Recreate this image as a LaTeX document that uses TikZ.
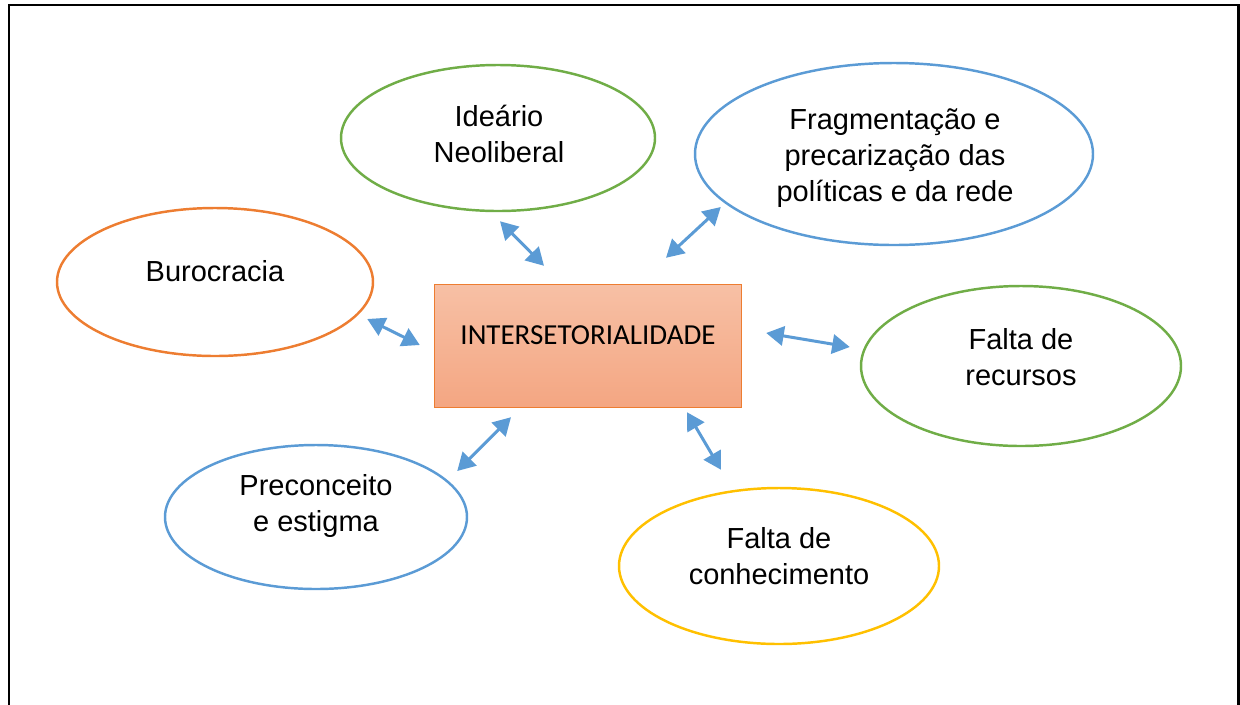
\documentclass[tikz,border=0pt]{standalone}
\usepackage{fontspec}
\setmainfont{Liberation Sans}
\newfontfamily\calibrifont{Carlito}
\usepackage{tikz}
\usetikzlibrary{arrows.meta,shapes.geometric,calc}

\definecolor{msblue}{HTML}{5B9BD5}
\definecolor{msgreen}{HTML}{70AD47}
\definecolor{msorange}{HTML}{ED7D31}
\definecolor{msyellow}{HTML}{FFC000}
\definecolor{boxtop}{HTML}{F7C0A5}
\definecolor{boxbottom}{HTML}{F4A682}

\begin{document}
\begin{tikzpicture}[x=0.02cm, y=-0.02cm,
	font=\fontsize{16.5}{20.4}\selectfont,
	bubble/.style={draw, ellipse, line width=1.4pt, inner sep=0pt},
	txt/.style={align=center, inner sep=0pt},
	link/.style={draw=msblue, fill=msblue, line width=1.7pt,
		arrows={Triangle[length=10pt,width=11pt]-Triangle[length=10pt,width=11pt]}}]
	\useasboundingbox (0,0) rectangle (1240,704);
	\draw[line width=1.7pt] (9,5) rectangle (1238.5,760);
	\node[draw=msorange, line width=0.8pt, top color=boxtop, bottom color=boxbottom,
		minimum width=307*0.02cm, minimum height=123*0.02cm] (inter) at (588,346) {};
	\node[txt, font=\calibrifont\fontsize{16.5}{20}\selectfont] (intertxt) at (588,335) {INTERSETORIALIDADE};
	\node[bubble, msgreen, minimum width=314*0.02cm, minimum height=146*0.02cm] (ideario) at (498,138) {};
	\node[txt] (idtxt) at (499,134) {Ideário\\Neoliberal};
	\node[bubble, msblue, minimum width=398*0.02cm, minimum height=182*0.02cm] (frag) at (894,154) {};
	\node[txt] (fragtxt) at (895,158) {Fragmentação e\\precarização das\\políticas e da rede};
	\node[bubble, msorange, minimum width=316*0.02cm, minimum height=148*0.02cm] (buro) at (215,282) {};
	\node[txt] (burotxt) at (215,271) {Burocracia};
	\node[bubble, msgreen, minimum width=320*0.02cm, minimum height=160*0.02cm] (recursos) at (1021,366) {};
	\node[txt] (rectxt) at (1021,357) {Falta de\\recursos};
	\node[bubble, msblue, minimum width=302*0.02cm, minimum height=144*0.02cm] (precon) at (316,517) {};
	\node[txt] (pretxt) at (316,506) {Preconceito\\e estigma};
	\node[bubble, msyellow, minimum width=320*0.02cm, minimum height=156*0.02cm] (conhec) at (779,566) {};
	\node[txt] (contxt) at (779,556) {Falta de\\conhecimento};
	\draw[link] ($(ideario.south)+(2,9)$) -- ($(inter.north)+(-44,-18)$);
	\draw[link] ($(frag.west)+(27,53)$) -- ($(inter.north)+(78,-26)$);
	\draw[link] ($(buro.east)+(-7,37)$) -- ($(inter.west)+(-14,-1)$);
	\draw[link] ($(inter.east)+(24,-13)$) -- ($(recursos.west)+(-10,-19)$);
	\draw[link] ($(inter.south)+(-77,9)$) -- ($(precon.east)+(-11,-46)$);
	\draw[link] ($(inter.south)+(99,4)$) -- ($(conhec.north)+(-58,-17)$);
\end{tikzpicture}
\end{document}
